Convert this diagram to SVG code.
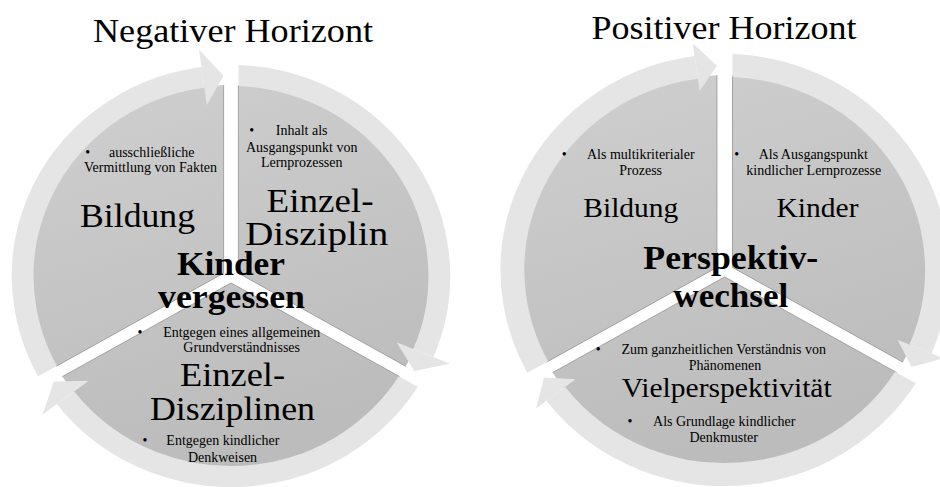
<svg xmlns="http://www.w3.org/2000/svg" width="940" height="487" viewBox="0 0 940 487">
  <style>
    text { font-family: "Liberation Serif", "Times New Roman", serif; fill: #000; }
    .title { font-size: 34px; text-anchor: middle; }
    .big { font-size: 34px; text-anchor: middle; }
    .mid { font-size: 28px; text-anchor: middle; }
    .hub { font-size: 34px; font-weight: bold; text-anchor: middle; }
    .small { font-size: 14px; text-anchor: middle; }
    .pie { fill: url(#pieFill); }
    .edge { fill: none; stroke: #9a9a9a; stroke-width: 0.9; vector-effect: non-scaling-stroke; }
    .band { fill: none; stroke: #e5e5e5; }
    .head { fill: #e5e5e5; }
  </style>
  <defs>
    <linearGradient id="pieFill" x1="0" y1="0" x2="0.3" y2="1">
      <stop offset="0" stop-color="#cfcfcf"/>
      <stop offset="1" stop-color="#bcbcbc"/>
    </linearGradient>
    <!-- segment wedges (model space, centre at origin) -->
    <clipPath id="clipL-tl" clipPathUnits="userSpaceOnUse"><polygon points="-7.1,-2.83 -7.1,-400 -500,-400 -500,281.8"/></clipPath>
    <clipPath id="clipL-tr" clipPathUnits="userSpaceOnUse"><polygon points="7.1,-2.83 7.1,-400 500,-400 500,281.8"/></clipPath>
    <clipPath id="clipL-b" clipPathUnits="userSpaceOnUse"><polygon points="0,6.93 500,295.6 500,400 -500,400 -500,295.6"/></clipPath>
    <clipPath id="clipR-tl" clipPathUnits="userSpaceOnUse"><polygon points="-7.5,-2.6 -7.5,-400 -500,-400 -500,281.8"/></clipPath>
    <clipPath id="clipR-tr" clipPathUnits="userSpaceOnUse"><polygon points="7.5,-2.6 7.5,-400 500,-400 500,281.8"/></clipPath>
    <clipPath id="clipR-b" clipPathUnits="userSpaceOnUse"><polygon points="0,6.93 500,295.6 500,400 -500,400 -500,295.6"/></clipPath>
  </defs>

  <rect width="940" height="487" fill="#fff"/>

  <!-- ===== Negativer Horizont: segments ===== -->
  <g id="neg-bildung">
    <g transform="translate(231,276) scale(1.039,1)">
      <circle class="pie" r="191" clip-path="url(#clipL-tl)"/>
      <path class="edge" d="M-7.1,-2.83 V-190.8 M-7.1,-2.83 L-168.3,90.3"/>
    </g>
  </g>
  <g id="neg-einzeldisziplin">
    <g transform="translate(231,276) scale(1.039,1)">
      <circle class="pie" r="191" clip-path="url(#clipL-tr)"/>
      <path class="edge" d="M7.1,-2.83 V-190.8 M7.1,-2.83 L168.3,90.3"/>
    </g>
  </g>
  <g id="neg-einzeldisziplinen">
    <g transform="translate(231,276) scale(1.039,1)">
      <circle class="pie" r="191" clip-path="url(#clipL-b)"/>
      <path class="edge" d="M0,6.93 L162.3,100.6 M0,6.93 L-162.3,100.6"/>
    </g>
  </g>

  <!-- ===== Positiver Horizont: segments ===== -->
  <g id="pos-bildung">
    <g transform="translate(724.7,270) scale(1.038,1)">
      <circle class="pie" r="195" clip-path="url(#clipR-tl)"/>
      <path class="edge" d="M-7.5,-2.6 V-194.8 M-7.5,-2.6 L-171.8,92.25"/>
    </g>
  </g>
  <g id="pos-kinder">
    <g transform="translate(724.7,270) scale(1.038,1)">
      <circle class="pie" r="195" clip-path="url(#clipR-tr)"/>
      <path class="edge" d="M7.5,-2.6 V-194.8 M7.5,-2.6 L171.8,92.25"/>
    </g>
  </g>
  <g id="pos-vielperspektivitaet">
    <g transform="translate(724.7,270) scale(1.038,1)">
      <circle class="pie" r="195" clip-path="url(#clipR-b)"/>
      <path class="edge" d="M0,6.93 L165.9,102.7 M0,6.93 L-165.9,102.7"/>
    </g>
  </g>

  <!-- circular arrows around each cycle -->
  <g id="connectors">
    <g transform="translate(231,276) scale(1.039,1)">
      <g clip-path="url(#clipL-tl)">
        <path class="band" stroke-width="21" d="M-153.59,128.88 A200.5,200.5 0 0 1 -27.05,-198.68"/>
        <polygon class="head" points="-23.27,-170.93 -30.82,-226.42 -7.1,-200.37"/>
      </g>
      <g clip-path="url(#clipL-tr)">
        <path class="band" stroke-width="21" d="M-34.81,-197.45 A200.5,200.5 0 0 1 185.14,76.95"/>
        <polygon class="head" points="159.29,66.21 211.00,87.70 176.56,95.01"/>
      </g>
      <g clip-path="url(#clipL-b)">
        <path class="band" stroke-width="21" d="M188.41,68.57 A200.5,200.5 0 0 1 -159.24,121.84"/>
        <polygon class="head" points="-137.00,104.83 -181.47,138.86 -170.56,105.41"/>
      </g>
    </g>
    <g transform="translate(724.7,270) scale(1.038,1)">
      <g clip-path="url(#clipR-tl)">
        <path class="band" stroke-width="23" d="M-156.65,131.45 A204.5,204.5 0 0 1 -27.40,-202.66"/>
        <polygon class="head" points="-24.19,-178.88 -30.62,-226.44 -7.5,-204.36"/>
      </g>
      <g clip-path="url(#clipR-tr)">
        <path class="band" stroke-width="23" d="M-35.50,-201.39 A204.5,204.5 0 0 1 188.63,78.98"/>
        <polygon class="head" points="166.49,69.71 210.77,88.25 180.02,97.01"/>
      </g>
      <g clip-path="url(#clipR-b)">
        <path class="band" stroke-width="23" d="M192.17,69.94 A204.5,204.5 0 0 1 -162.72,123.87"/>
        <polygon class="head" points="-143.62,109.33 -181.82,138.40 -174.02,107.41"/>
      </g>
    </g>
  </g>

  <!-- ===== labels ===== -->
  <text class="title" x="233" y="42" textLength="280" lengthAdjust="spacingAndGlyphs">Negativer Horizont</text>

  <g id="neg-bildung-label">
    <text class="small" x="87.7" y="157">•</text>
    <text class="small" x="151.7" y="157">ausschließliche</text>
    <text class="small" x="150.5" y="172">Vermittlung von Fakten</text>
    <text class="big" x="137.5" y="227" textLength="115" lengthAdjust="spacingAndGlyphs">Bildung</text>
  </g>
  <g id="neg-einzeldisziplin-label">
    <text class="small" x="251.7" y="135">•</text>
    <text class="small" x="301.7" y="135">Inhalt als</text>
    <text class="small" x="301.7" y="151.5">Ausgangspunkt von</text>
    <text class="small" x="301.7" y="167">Lernprozessen</text>
    <text class="big" x="320" y="212" textLength="107" lengthAdjust="spacingAndGlyphs">Einzel-</text>
    <text class="big" x="316.7" y="245" textLength="143" lengthAdjust="spacingAndGlyphs">Disziplin</text>
  </g>
  <g id="neg-einzeldisziplinen-label">
    <text class="small" x="140" y="337">•</text>
    <text class="small" x="241.7" y="337">Entgegen eines allgemeinen</text>
    <text class="small" x="241.7" y="352">Grundverständnisses</text>
    <text class="big" x="232.5" y="386" textLength="105" lengthAdjust="spacingAndGlyphs">Einzel-</text>
    <text class="big" x="232.5" y="420" textLength="165" lengthAdjust="spacingAndGlyphs">Disziplinen</text>
    <text class="small" x="145" y="445">•</text>
    <text class="small" x="222.9" y="445">Entgegen kindlicher</text>
    <text class="small" x="222.5" y="462">Denkweisen</text>
  </g>
  <g id="neg-center">
    <text class="hub" x="231" y="275" textLength="108" lengthAdjust="spacingAndGlyphs">Kinder</text>
    <text class="hub" x="231.5" y="308" textLength="147" lengthAdjust="spacingAndGlyphs">vergessen</text>
  </g>

  <text class="title" x="724" y="38.5" textLength="265" lengthAdjust="spacingAndGlyphs">Positiver Horizont</text>

  <g id="pos-bildung-label">
    <text class="small" x="564.3" y="158.5">•</text>
    <text class="small" x="640.8" y="158.5">Als multikriterialer</text>
    <text class="small" x="640.7" y="175">Prozess</text>
    <text class="mid" x="630.8" y="217" textLength="95" lengthAdjust="spacingAndGlyphs">Bildung</text>
  </g>
  <g id="pos-kinder-label">
    <text class="small" x="736.7" y="158.5">•</text>
    <text class="small" x="813.3" y="158.5">Als Ausgangspunkt</text>
    <text class="small" x="813.8" y="175">kindlicher Lernprozesse</text>
    <text class="mid" x="817.5" y="217" textLength="82" lengthAdjust="spacingAndGlyphs">Kinder</text>
  </g>
  <g id="pos-vielperspektivitaet-label">
    <text class="small" x="598.3" y="353.5">•</text>
    <text class="small" x="723.7" y="353.5">Zum ganzheitlichen Verständnis von</text>
    <text class="small" x="725" y="369.5">Phänomenen</text>
    <text class="mid" x="726.7" y="397" textLength="210" lengthAdjust="spacingAndGlyphs">Vielperspektivität</text>
    <text class="small" x="630" y="425.5">•</text>
    <text class="small" x="724.2" y="425.5">Als Grundlage kindlicher</text>
    <text class="small" x="723.7" y="442">Denkmuster</text>
  </g>
  <g id="pos-center">
    <text class="hub" x="730.8" y="268.5" textLength="175" lengthAdjust="spacingAndGlyphs">Perspektiv-</text>
    <text class="hub" x="730.8" y="306.5" textLength="115" lengthAdjust="spacingAndGlyphs">wechsel</text>
  </g>
</svg>
